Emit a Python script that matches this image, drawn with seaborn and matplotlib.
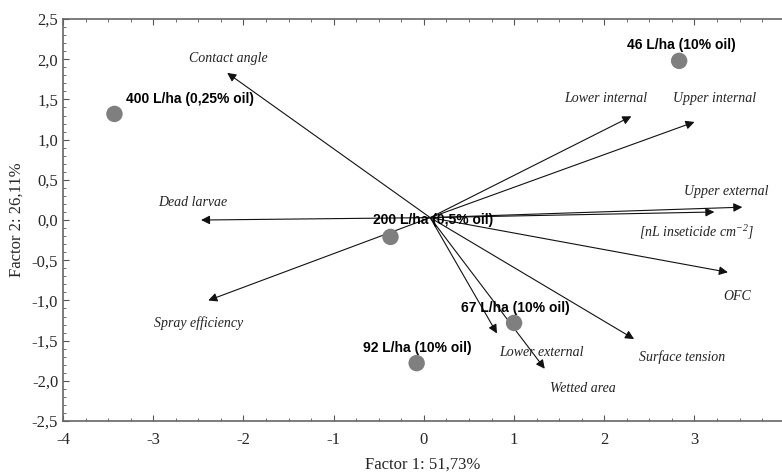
import pandas as pd
import matplotlib.pyplot as plt
import numpy as np
import seaborn as sns
from matplotlib.ticker import MultipleLocator, FuncFormatter

# treatment scores (Factor 1, Factor 2)
treatments = ["400 L/ha (0,25% oil)", "46 L/ha (10% oil)", "200 L/ha (0,5% oil)",
              "67 L/ha (10% oil)", "92 L/ha (10% oil)"]
f1_scores = [-3.43, 2.83, -0.37, 1.0, -0.08]
f2_scores = [1.32, 1.98, -0.21, -1.28, -1.78]

# variable loadings (arrow tips)
variables = ["Contact angle", "Dead larvae", "Spray efficiency", "Lower internal",
             "Upper internal", "Upper external", "[nL inseticide cm$^{-2}$]", "OFC",
             "Surface tension", "Lower external", "Wetted area"]
f1_load = [-2.18, -2.47, -2.39, 2.30, 3.00, 3.53, 3.22, 3.37, 2.33, 0.81, 1.34]
f2_load = [1.83, 0.0, -1.0, 1.29, 1.22, 0.16, 0.10, -0.65, -1.48, -1.41, -1.85]
origin = (0.07, 0.03)

# label positions
treat_lab = [(-3.3, 1.5), (2.25, 2.18), (-0.56, 0.0), (0.41, -1.09), (-0.67, -1.59)]
var_lab = [(-2.17, 2.01), (-2.56, 0.22), (-2.5, -1.28), (2.02, 1.51), (3.22, 1.51),
           (3.35, 0.36), (3.02, -0.15), (3.47, -0.95), (2.86, -1.71), (1.3, -1.65),
           (1.76, -2.09)]

df = pd.DataFrame({"f1": f1_scores, "f2": f2_scores, "name": treatments})

sns.set_style("ticks")
plt.rcParams['font.family'] = ['Liberation Serif', 'DejaVu Serif']
plt.rcParams['mathtext.fontset'] = 'custom'
plt.rcParams['mathtext.it'] = 'Liberation Serif:italic'
plt.rcParams['mathtext.rm'] = 'Liberation Serif:italic'

fig = plt.figure(figsize=(7.82, 4.76), dpi=100)
ax = fig.add_axes([0.0806, 0.1155, 0.9194, 0.8445])

for x, y in zip(f1_load, f2_load):
    ax.annotate("", xy=(x, y), xytext=origin,
                arrowprops=dict(arrowstyle="-|>", color="#111111", lw=0.8,
                                mutation_scale=13, shrinkA=0, shrinkB=0))

sns.scatterplot(data=df, x="f1", y="f2", s=140, color="#7f7f7f",
                edgecolor="none", ax=ax, zorder=3)

for name, (x, y) in zip(treatments, treat_lab):
    ax.text(x, y, name, fontsize=10, fontweight="bold",
            family=['Liberation Sans Narrow', 'Liberation Sans', 'DejaVu Sans'],
            ha="left", va="center", color="black", zorder=4)

for name, (x, y) in zip(variables, var_lab):
    ax.text(x, y, name, fontsize=10, style="italic", ha="center", va="center",
            color="#222222", zorder=4)

ax.set_xlim(-4, 3.97)
ax.set_ylim(-2.5, 2.5)
ax.xaxis.set_major_locator(MultipleLocator(1))
ax.xaxis.set_minor_locator(MultipleLocator(0.25))
ax.yaxis.set_major_locator(MultipleLocator(0.5))
ax.yaxis.set_minor_locator(MultipleLocator(0.1))
ax.xaxis.set_major_formatter(FuncFormatter(lambda v, p: f"{v:.0f}"))
ax.yaxis.set_major_formatter(FuncFormatter(lambda v, p: f"{v:.1f}".replace(".", ",")))
ax.tick_params(which="both", direction="in", top=True, right=False, labelsize=12,
               color="#555555")
ax.tick_params(which="major", length=4)
ax.tick_params(which="minor", length=2)
ax.tick_params(axis="x", pad=8)
for s in ["left", "bottom", "top"]:
    ax.spines[s].set_color("#666666")
    ax.spines[s].set_linewidth(1.2)
ax.spines["right"].set_visible(False)

ax.set_xlabel("Factor 1: 51,73%", fontsize=12, labelpad=6)
ax.set_ylabel("Factor 2: 26,11%", fontsize=12, labelpad=5)

fig.savefig("out.png", dpi=100)
